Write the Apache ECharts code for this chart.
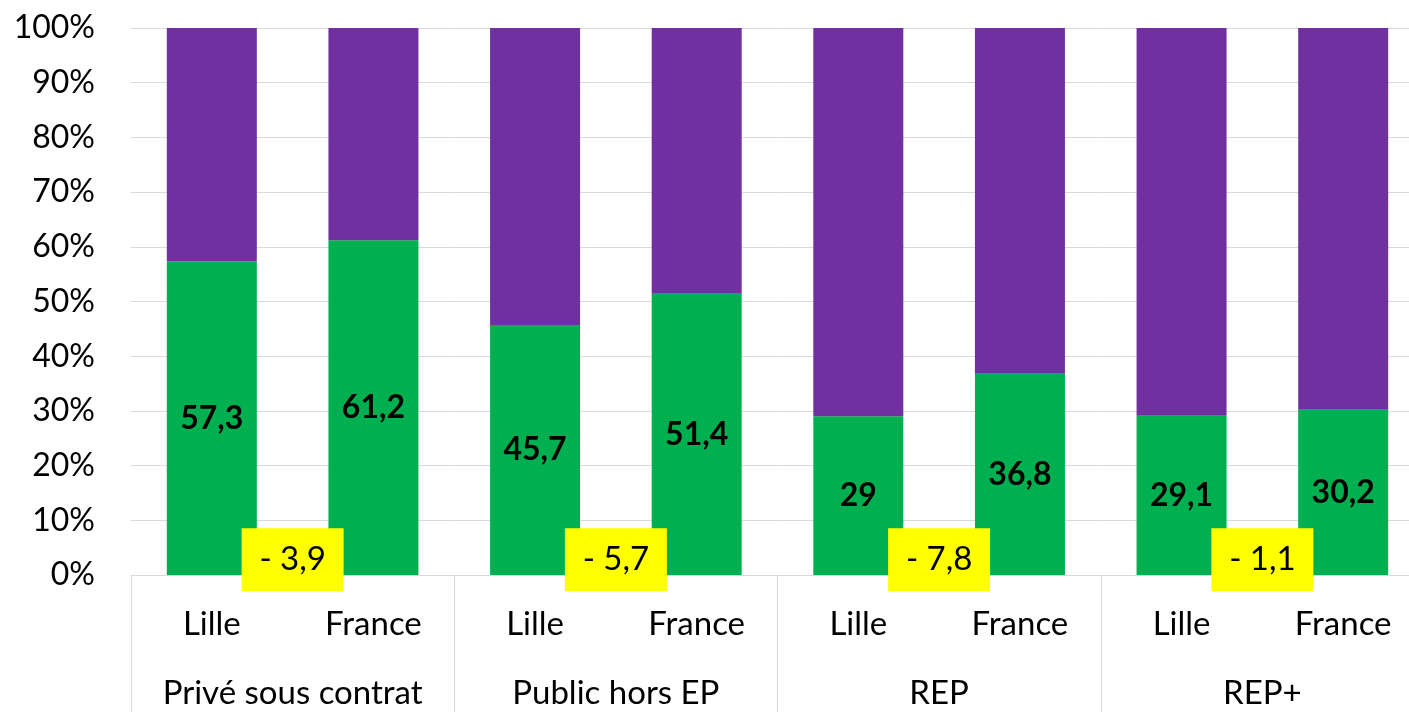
<!DOCTYPE html>
<html>
<head>
<meta charset="utf-8">
<script src="https://cdn.jsdelivr.net/npm/echarts@6/dist/echarts.min.js"></script>
<style>
  html, body { margin: 0; padding: 0; background: #fff; overflow: hidden; }
  /* le graphique d'origine est coupé à droite : on le dessine plus large que la fenêtre */
  #chart { width: 1424px; height: 712px; }
</style>
</head>
<body>
<div id="chart"></div>
<script>
// categories (2 niveaux)
const places = ['Lille', 'France', 'Lille', 'France', 'Lille', 'France', 'Lille', 'France'];
const groups = ['Privé sous contrat', 'Public hors EP', 'REP', 'REP+'];

// parts en % (vert = valeur lue, violet = reste)
const greenValues = [57.3, 61.2, 45.7, 51.4, 29, 36.8, 29.1, 30.2];
const purpleValues = [42.7, 38.8, 54.3, 48.6, 71, 63.2, 70.9, 69.8];

// écarts Lille - France (encadrés jaunes)
const diffLabels = ['- 3,9', '- 5,7', '- 7,8', '- 1,1'];
const diffPositions = [1, 3, 5, 7]; // milieu de chaque groupe, en unités de catégorie
const diffLevel = 2.8; // hauteur du centre de l'encadré (%)

const yTicks = [0, 10, 20, 30, 40, 50, 60, 70, 80, 90, 100];

const FONT = 'Lato, "Open Sans", sans-serif';
const FONT_SIZE = 32;
const GRID_COLOR = '#d9d9d9';

const chart = echarts.init(document.getElementById('chart'));

chart.setOption({
  animation: false,
  textStyle: { fontFamily: FONT },
  grid: { left: 131, right: 0, top: 28, bottom: 137, containLabel: false },
  xAxis: [
    {
      type: 'category',
      data: places,
      axisLine: { show: true, lineStyle: { color: GRID_COLOR, width: 1 } },
      axisTick: { show: false },
      axisLabel: { color: '#000', fontSize: 33, margin: 33, fontFamily: FONT, interval: 0 },
    },
    {
      type: 'category',
      data: groups,
      position: 'bottom',
      axisLine: { show: false },
      axisTick: { show: true, length: 140, lineStyle: { color: GRID_COLOR, width: 1 } },
      axisLabel: { color: '#000', fontSize: 33, margin: 102, fontFamily: FONT, interval: 0 },
    },
    {
      type: 'value',
      min: 0,
      max: 8,
      show: false,
    },
  ],
  yAxis: {
    type: 'value',
    min: yTicks[0],
    max: yTicks[yTicks.length - 1],
    interval: 10,
    axisLine: { show: false },
    axisTick: { show: false },
    axisLabel: {
      formatter: '{value}%',
      color: '#000',
      fontSize: FONT_SIZE,
      margin: 36,
      fontFamily: FONT,
    },
    splitLine: { show: true, lineStyle: { color: GRID_COLOR, width: 1 } },
  },
  series: [
    {
      name: 'vert',
      type: 'bar',
      stack: 'total',
      xAxisIndex: 0,
      barWidth: 90,
      data: greenValues,
      itemStyle: { color: '#00B050' },
      label: {
        show: true,
        position: 'inside',
        color: '#000',
        fontWeight: 'bold',
        fontSize: FONT_SIZE,
        fontFamily: FONT,
        formatter: (p) => String(p.value).replace('.', ','),
      },
    },
    {
      name: 'violet',
      type: 'bar',
      stack: 'total',
      xAxisIndex: 0,
      barWidth: 90,
      data: purpleValues,
      itemStyle: { color: '#7030A0' },
    },
    {
      name: 'ecarts',
      type: 'scatter',
      xAxisIndex: 2,
      symbolSize: 1,
      itemStyle: { color: 'transparent', opacity: 1 },
      z: 10,
      data: diffPositions.map((x, i) => ({ value: [x, diffLevel], label: { formatter: diffLabels[i] } })),
      label: {
        show: true,
        position: 'inside',
        color: '#000',
        fontSize: 33,
        fontFamily: FONT,
        backgroundColor: '#FFFF00',
        width: 102,
        height: 63,
        lineHeight: 63,
        align: 'center',
        verticalAlign: 'middle',
      },
    },
  ],
});
</script>
</body>
</html>
